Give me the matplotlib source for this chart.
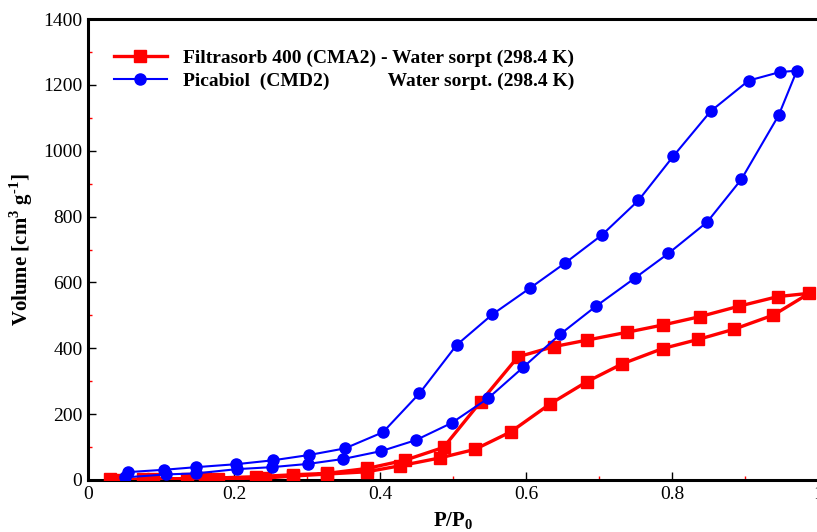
import matplotlib
matplotlib.use("Agg")
import matplotlib.pyplot as plt
from matplotlib.ticker import MultipleLocator

plt.rcParams['font.family'] = ['Liberation Serif', 'DejaVu Serif']
plt.rcParams['mathtext.fontset'] = 'custom'
plt.rcParams['mathtext.rm'] = 'Liberation Serif'
plt.rcParams['mathtext.bf'] = 'Liberation Serif:bold'

# Filtrasorb 400 (CMA2): adsorption then desorption branch
cma2_p = [0.030, 0.075, 0.135, 0.178, 0.243, 0.281, 0.327, 0.382, 0.427, 0.482,
          0.530, 0.579, 0.633, 0.683, 0.732, 0.787, 0.836, 0.885, 0.939, 0.988,
          0.945, 0.892, 0.838, 0.788, 0.739, 0.684, 0.638, 0.589, 0.538, 0.487,
          0.434, 0.382, 0.327, 0.281, 0.230, 0.160, 0.089, 0.040]
cma2_v = [3, 2, 3, 4, 6, 12, 18, 25, 43, 67,
          93, 146, 231, 298, 353, 399, 427, 458, 501, 567,
          557, 528, 496, 471, 449, 425, 405, 374, 238, 99,
          60, 35, 20, 16, 10, 5, 2, 0]

# Picabiol (CMD2): adsorption then desorption branch
cmd2_p = [0.051, 0.107, 0.148, 0.204, 0.252, 0.302, 0.350, 0.402, 0.449, 0.498,
          0.548, 0.596, 0.647, 0.696, 0.749, 0.795, 0.848, 0.895, 0.946, 0.971,
          0.948, 0.905, 0.853, 0.802, 0.754, 0.704, 0.653, 0.605, 0.554, 0.505,
          0.454, 0.404, 0.352, 0.303, 0.254, 0.203, 0.148, 0.104, 0.055]
cmd2_v = [8, 17, 20, 33, 39, 49, 64, 88, 121, 173,
          248, 342, 443, 528, 613, 688, 783, 913, 1107, 1243,
          1239, 1213, 1120, 984, 849, 744, 658, 582, 503, 410,
          263, 145, 96, 76, 60, 48, 39, 31, 24]

label_cma2 = "Filtrasorb 400 (CMA2) - Water sorpt (298.4 K)"
label_cmd2 = "Picabiol  (CMD2)            Water sorpt. (298.4 K)"

fig = plt.figure(figsize=(8.17, 5.32), dpi=100)
ax = fig.add_axes([88/817, 52/532, 730/817, 461/532])

ax.plot(cma2_p, cma2_v, color='#ff0000', lw=2.4, marker='s', ms=8.5,
        mec='#ff0000', mfc='#ff0000', label=label_cma2, zorder=3)
ax.plot(cmd2_p, cmd2_v, color='#0000ff', lw=1.5, marker='o', ms=8,
        mec='#0000ff', mfc='#0000ff', label=label_cmd2, zorder=4)

ax.set_xlim(0, 1)
ax.set_ylim(0, 1400)
ax.xaxis.set_minor_locator(MultipleLocator(0.1))
ax.yaxis.set_major_locator(MultipleLocator(200))
ax.yaxis.set_minor_locator(MultipleLocator(100))
ax.set_xticks([0, 0.2, 0.4, 0.6, 0.8, 1.0])
ax.set_xticklabels(['0', '0.2', '0.4', '0.6', '0.8', '1'])

ax.tick_params(which='major', direction='in', length=6, width=1, color='black',
               labelsize=14, top=False, right=False, pad=4)
ax.tick_params(which='minor', direction='in', length=3, width=1, color='#ff0000',
               top=False, right=False)
for s in ax.spines.values():
    s.set_linewidth(2.2)
ax.spines['right'].set_linewidth(0.6)
ax.spines['right'].set_color('#cccccc')

ax.set_xlabel(r'$\mathbf{P/P_0}$', fontsize=15)
ax.xaxis.set_label_coords(0.5, -0.066)
ax.set_ylabel(r'Volume [cm$^{\mathbf{3}}$ g$^{\mathbf{\text{-}1}}$]', fontsize=15,
              fontweight='bold', labelpad=6)

leg = ax.legend(loc='upper left', bbox_to_anchor=(0.025, 0.951), frameon=False,
                prop={'weight': 'bold', 'size': 14}, handlelength=2.7,
                handletextpad=0.85, labelspacing=0.28, borderaxespad=0)

fig.savefig('out.png', dpi=100)
